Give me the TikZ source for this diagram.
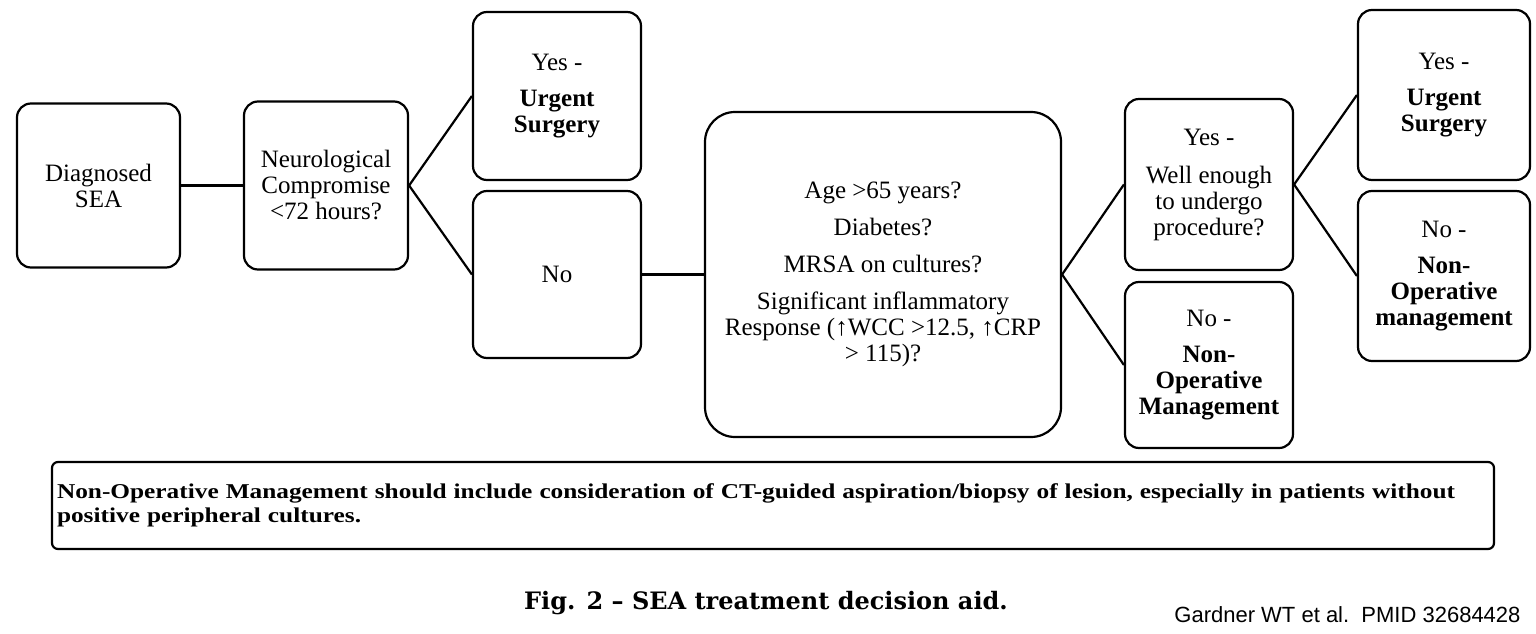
\documentclass[tikz,border=0pt]{standalone}
\usepackage{fontspec}
\setmainfont{Liberation Serif}
\newfontfamily\notefont[FakeStretch=1.2]{Liberation Serif}
\newfontfamily\capfont{DejaVu Serif}
\newfontfamily\creditfont{Liberation Sans}
\usepackage{tikz}
\usetikzlibrary{positioning}

\tikzset{
  box/.style={draw, line width=2.2pt, rounded corners=14pt, align=center,
    inner sep=0pt, minimum width=168pt, minimum height=168pt,
    font=\fontsize{25}{26}\selectfont},
  link/.style={line width=2.2pt}
}

\begin{document}
\begin{tikzpicture}[x=1pt,y=-1pt]
\useasboundingbox (0,0) rectangle (1536,634);

\node[box, minimum width=163pt, minimum height=164pt] (sea) at (98.5,185.5) {Diagnosed\\SEA};
\node[box, minimum width=164pt] (neuro) at (326,185.5) {Neurological\\Compromise\\<72 hours?};

\node[box] (yes1) at (557,96) {Yes -\\[10pt]\textbf{Urgent}\\\textbf{Surgery}};
\node[box, minimum height=167pt] (no1) at (557,274.5) {No};

\node[box, rounded corners=30pt, minimum width=356pt, minimum height=325pt] (crit) at (883,274.5)
  {Age >65 years?\\[11pt]Diabetes?\\[11pt]MRSA on cultures?\\[11pt]Significant inflammatory\\Response (↑WCC >12.5, ↑CRP\\> 115)?};

\node[box, minimum height=171pt] (yes2) at (1209,184.5) {Yes -\\[12pt]Well enough\\to undergo\\procedure?};
\node[box, minimum height=166pt] (no2) at (1209,365) {No -\\[10pt]\textbf{Non-}\\\textbf{Operative}\\\textbf{Management}};

\node[box, minimum width=172pt, minimum height=170pt] (yes3) at (1444,95) {Yes -\\[10pt]\textbf{Urgent}\\\textbf{Surgery}};
\node[box, minimum width=172pt, minimum height=170pt] (no3) at (1444,276) {No -\\[10pt]\textbf{Non-}\\\textbf{Operative}\\\textbf{management}};

\draw[link] (sea) -- (neuro);
\draw[link] (neuro.east) -- (yes1.west);
\draw[link] (neuro.east) -- (no1.west);
\draw[link] (no1) -- (crit);
\draw[link] (crit.east) -- (yes2.west);
\draw[link] (crit.east) -- (no2.west);
\draw[link] (yes2.east) -- (yes3.west);
\draw[link] (yes2.east) -- (no3.west);

%%%%%%%%%%%%%%%
\node[draw, line width=2.2pt, rounded corners=6pt, minimum width=1442pt, minimum height=87pt,
  inner sep=5pt, text width=1432pt, align=left, font=\notefont\bfseries\fontsize{21.1}{24}\selectfont] (note) at (773,505.5)
  {Non-Operative Management should include consideration of CT-guided aspiration/biopsy of lesion, especially in patients without\\positive peripheral cultures.};

\node[font=\capfont\bfseries\fontsize{24}{26}\selectfont, anchor=base] (cap) at (766,609) {Fig. 2 \textendash{} SEA treatment decision aid.};
\node[font=\creditfont\fontsize{22}{24}\selectfont, anchor=base east] (credit) at (1524,622) {Gardner WT et al.\ \ PMID 32684428};

\end{tikzpicture}
\end{document}
